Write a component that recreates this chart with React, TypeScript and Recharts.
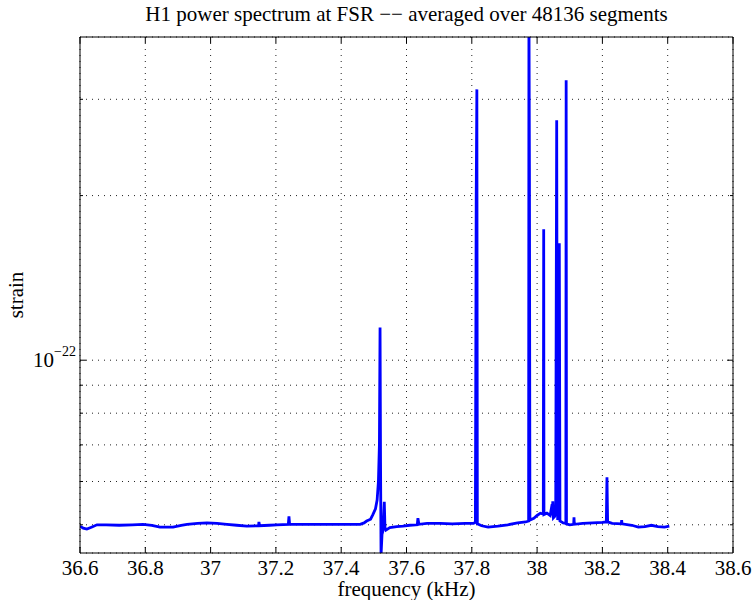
import React from 'react';
import { LineChart, Line, XAxis, YAxis, CartesianGrid } from 'recharts';

const FONT = '"Liberation Serif", "Times New Roman", Times, serif';
const FS = 21;

// frequency (kHz)
const freqKHz = [
  36.600, 36.610, 36.621, 36.635, 36.652, 36.680, 36.720, 36.760, 36.793, 36.820,
  36.845, 36.885, 36.910, 36.928, 36.960, 36.989, 37.020, 37.050, 37.080, 37.111,
  37.147, 37.148, 37.150, 37.180, 37.203, 37.238, 37.240, 37.242, 37.280, 37.320,
  37.357, 37.400, 37.440, 37.458, 37.470, 37.478, 37.490, 37.497, 37.505, 37.510,
  37.514, 37.517, 37.519, 37.5205, 37.522, 37.525, 37.528, 37.531, 37.532, 37.534,
  37.537, 37.549, 37.570, 37.589, 37.610, 37.633, 37.635, 37.638, 37.663, 37.703,
  37.740, 37.780, 37.805, 37.811, 37.8135, 37.8155, 37.817, 37.830, 37.850, 37.880,
  37.910, 37.940, 37.965, 37.974, 37.975, 37.9765, 37.978, 37.990, 38.000, 38.010,
  38.019, 38.0202, 38.021, 38.030, 38.040, 38.046, 38.047, 38.048, 38.050, 38.054,
  38.057, 38.060, 38.0615, 38.063, 38.066, 38.068, 38.070, 38.080, 38.088, 38.089,
  38.090, 38.100, 38.112, 38.113, 38.114, 38.140, 38.170, 38.200, 38.212, 38.214,
  38.216, 38.230, 38.258, 38.259, 38.260, 38.290, 38.310, 38.330, 38.350, 38.370,
  38.390, 38.405,
];

// strain, in units of 1e-23
const strain = [
  4.97, 4.93, 4.91, 4.95, 5.00, 5.00, 4.99, 5.00, 5.01, 4.99,
  4.95, 4.95, 4.99, 5.01, 5.03, 5.04, 5.03, 5.01, 4.99, 4.97,
  4.98, 5.06, 4.98, 4.99, 5.00, 5.01, 5.18, 5.01, 5.01, 5.01,
  5.01, 5.01, 5.01, 5.01, 5.04, 5.08, 5.12, 5.22, 5.35, 5.55,
  6.0, 7.0, 11.48, 6.5, 4.40, 4.80, 4.88, 5.35, 5.51, 4.95,
  4.89, 4.94, 4.96, 4.97, 4.99, 5.00, 5.14, 5.01, 5.03, 5.03,
  5.02, 5.03, 5.03, 5.05, 19.86, 31.28, 5.02, 4.98, 4.95, 4.97,
  5.00, 5.04, 5.06, 5.08, 45.0, 22.53, 5.10, 5.14, 5.20, 5.25,
  5.23, 17.36, 5.22, 5.25, 5.20, 5.45, 5.20, 5.52, 5.15, 5.18,
  5.35, 27.47, 8.0, 5.10, 5.5, 16.36, 5.08, 5.04, 5.03, 32.50,
  5.02, 5.00, 5.01, 5.16, 5.01, 5.03, 5.04, 5.05, 5.06, 6.11,
  5.06, 5.03, 5.02, 5.10, 5.02, 4.99, 4.95, 4.96, 4.99, 4.96,
  4.95, 4.97,
];

const xTicks = [36.6, 36.8, 37, 37.2, 37.4, 37.6, 37.8, 38, 38.2, 38.4, 38.6];
const xTickLabels = ['36.6', '36.8', '37', '37.2', '37.4', '37.6', '37.8', '38', '38.2', '38.4', '38.6'];
const yTicks = [5, 6, 7, 8, 9, 10, 20, 30];
const yDomain = [4.44, 39];

const data = freqKHz.map((f, i) => ({ f, s: strain[i] }));

const textStyle = { fontFamily: FONT, fontSize: FS };

const BottomTick = (props: any) => {
  const { x, y, payload } = props;
  const idx = xTicks.indexOf(payload.value);
  return (
    <g>
      <line x1={x} x2={x} y1={y} y2={y - 6} stroke="#000" strokeWidth={1} />
      <text x={x} y={y + 22} textAnchor="middle" fill="#000" fontFamily={FONT} fontSize={FS} style={textStyle}>
        {idx >= 0 ? xTickLabels[idx] : ''}
      </text>
    </g>
  );
};

const TopTick = (props: any) => {
  const { x, y } = props;
  return <line x1={x} x2={x} y1={y} y2={y + 6} stroke="#000" strokeWidth={1} />;
};

const LeftTick = (props: any) => {
  const { x, y, payload } = props;
  const major = payload.value === 10;
  return (
    <g>
      <line x1={x} x2={x + (major ? 6 : 3)} y1={y} y2={y} stroke="#000" strokeWidth={1} />
      {major && (
        <text x={x - 4} y={y + 7} textAnchor="end" fill="#000" fontFamily={FONT} fontSize={FS} style={textStyle}>
          10
          <tspan dy={-11} style={{ fontFamily: FONT, fontSize: 14 }}>−22</tspan>
        </text>
      )}
    </g>
  );
};

const RightTick = (props: any) => {
  const { x, y, payload } = props;
  const major = payload.value === 10;
  return <line x1={x} x2={x - (major ? 6 : 3)} y1={y} y2={y} stroke="#000" strokeWidth={1} />;
};

export default function App() {
  return (
    <div style={{ position: 'relative', width: 752, height: 600, overflow: 'hidden' }}>
      <style>{'html, body { margin: 0; padding: 0; }'}</style>
      <LineChart
        width={752}
        height={600}
        data={data}
        margin={{ top: 36, right: 18, bottom: 0, left: 0 }}
      >
        <CartesianGrid stroke="#222" strokeDasharray="1 5" strokeWidth={1} />
        <XAxis
          dataKey="f"
          type="number"
          domain={[36.6, 38.6]}
          ticks={xTicks}
          interval={0}
          height={47}
          tickSize={0}
          tickMargin={0}
          tickLine={false}
          axisLine={{ stroke: '#000' }}
          tick={BottomTick}
          allowDataOverflow
        />
        <XAxis
          xAxisId="top"
          orientation="top"
          dataKey="f"
          type="number"
          domain={[36.6, 38.6]}
          ticks={xTicks}
          interval={0}
          height={1}
          tickSize={0}
          tickMargin={0}
          tickLine={false}
          axisLine={{ stroke: '#000' }}
          tick={TopTick}
          allowDataOverflow
        />
        <YAxis
          scale="log"
          type="number"
          domain={yDomain}
          ticks={yTicks}
          interval={0}
          width={80}
          tickSize={0}
          tickMargin={0}
          tickLine={false}
          axisLine={{ stroke: '#000' }}
          tick={LeftTick}
          allowDataOverflow
        />
        <YAxis
          yAxisId="right"
          orientation="right"
          scale="log"
          type="number"
          domain={yDomain}
          ticks={yTicks}
          interval={0}
          width={1}
          tickSize={0}
          tickMargin={0}
          tickLine={false}
          axisLine={{ stroke: '#000' }}
          tick={RightTick}
          allowDataOverflow
        />
        <Line
          dataKey="s"
          type="linear"
          stroke="#0000ff"
          strokeWidth={2.8}
          dot={false}
          isAnimationActive={false}
        />
      </LineChart>
      <svg
        width={752}
        height={600}
        style={{ position: 'absolute', left: 0, top: 0, pointerEvents: 'none' }}
      >
        <text x={406.5} y={21} textAnchor="middle" fill="#000" style={textStyle}>
          H1 power spectrum at FSR −− averaged over 48136 segments
        </text>
        <text x={406.5} y={596} textAnchor="middle" fill="#000" style={textStyle}>
          frequency (kHz)
        </text>
        <text
          x={23}
          y={295}
          textAnchor="middle"
          fill="#000"
          style={textStyle}
          transform="rotate(-90 23 295)"
        >
          strain
        </text>
      </svg>
    </div>
  );
}
